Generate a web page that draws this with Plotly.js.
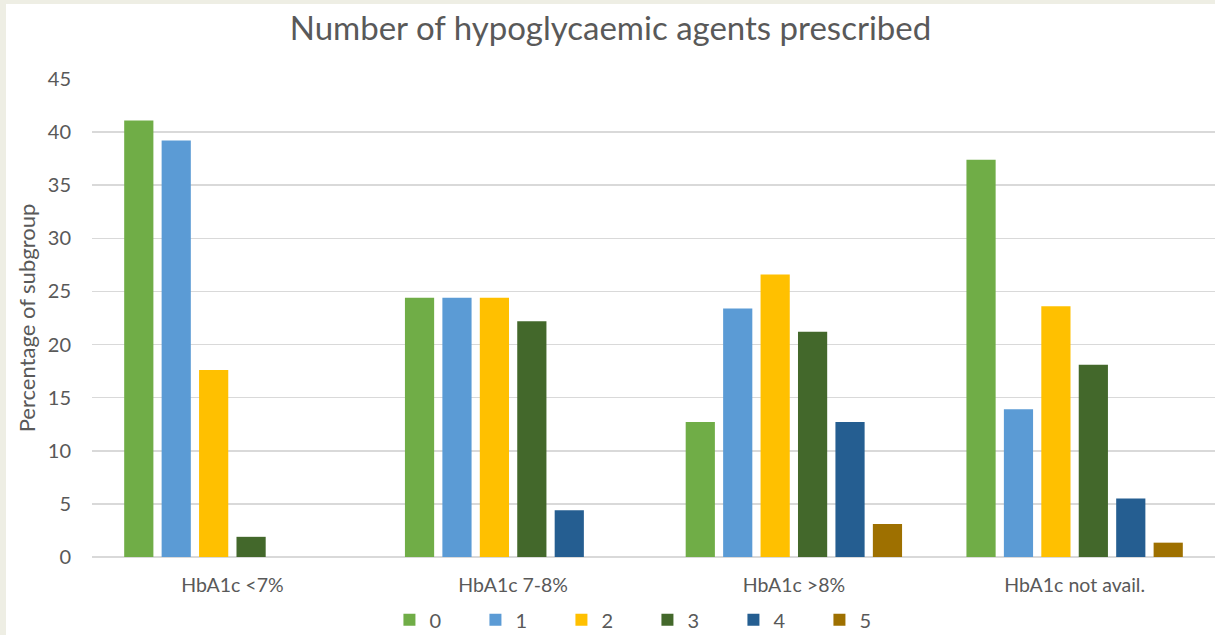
<!DOCTYPE html>
<html>
<head>
<meta charset="utf-8">
<script src="https://cdn.plot.ly/plotly-3.0.1.min.js"></script>
<style>
html,body{margin:0;padding:0;background:#eeeee4;width:1215px;height:635px;overflow:hidden;}
#chart{position:absolute;left:6px;top:4px;width:1209px;height:631px;background:#fff;}
</style>
</head>
<body>
<div id="chart"></div>
<script>
const categories = ["HbA1c <7%", "HbA1c 7-8%", "HbA1c >8%", "HbA1c not avail."];
const seriesNames = ["0", "1", "2", "3", "4", "5"];
const agents0 = [41.1, 24.4, 12.7, 37.4];
const agents1 = [39.2, 24.4, 23.4, 13.9];
const agents2 = [17.6, 24.4, 26.6, 23.6];
const agents3 = [1.9, 22.2, 21.2, 18.1];
const agents4 = [0, 4.4, 12.7, 5.5];
const agents5 = [0, 0, 3.1, 1.35];
const seriesValues = [agents0, agents1, agents2, agents3, agents4, agents5];
const colors = ["#70ad47", "#5b9bd5", "#ffc000", "#43682b", "#255e91", "#9e7000"];

const traces = seriesNames.map((n, i) => ({
  type: "bar",
  name: n,
  x: categories,
  y: seriesValues[i],
  marker: {color: colors[i], line: {width: 0}},
  hoverinfo: "skip"
}));

const layout = {
  width: 1209,
  height: 631,
  margin: {l: 86, r: 0, t: 75, b: 78},
  paper_bgcolor: "#ffffff",
  plot_bgcolor: "#ffffff",
  font: {family: "Lato, 'Open Sans', sans-serif", color: "#595959", size: 19},
  title: {
    text: "Number of hypoglycaemic agents prescribed",
    font: {size: 33, color: "#595959", family: "Lato, 'Open Sans', sans-serif"},
    x: 0.5, xanchor: "center",
    y: 0.962, yanchor: "middle", yref: "container"
  },
  barmode: "group",
  bargap: 0.2,
  bargroupgap: 0.22,
  xaxis: {
    type: "category",
    automargin: false,
    showgrid: false,
    showline: false,
    zeroline: false,
    ticks: "",
    ticklabelstandoff: 14,
    tickfont: {size: 19.5, color: "#595959"}
  },
  yaxis: {
    range: [0, 45],
    dtick: 5,
    automargin: false,
    showgrid: true,
    gridcolor: "#d9d9d9",
    gridwidth: 1.5,
    zeroline: true,
    zerolinecolor: "#d9d9d9",
    zerolinewidth: 1.5,
    showline: false,
    ticks: "",
    ticklabelstandoff: 20,
    tickfont: {size: 20, color: "#595959"},
    title: {text: "Percentage of subgroup", font: {size: 22, color: "#595959"}, standoff: 6}
  },
  legend: {
    orientation: "h",
    xref: "paper",
    x: 0.4946, xanchor: "center",
    yref: "container",
    y: 0.024, yanchor: "middle",
    entrywidth: 41, entrywidthmode: "pixels",
    font: {size: 20, color: "#595959"},
    itemclick: false, itemdoubleclick: false
  },
  showlegend: true
};

Plotly.newPlot("chart", traces, layout, {displayModeBar: false, staticPlot: true});
</script>
</body>
</html>
